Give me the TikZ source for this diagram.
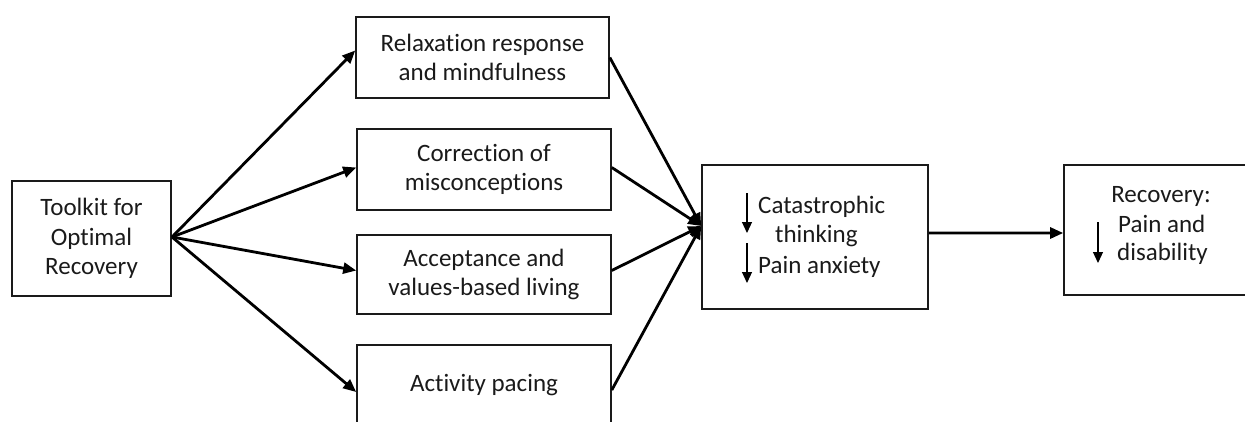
\documentclass[tikz,border=0pt]{standalone}
\usepackage{fontspec}
\setmainfont[Ligatures=NoCommon]{Carlito}
\usetikzlibrary{arrows.meta}
\definecolor{ink}{HTML}{1A1A1A}
\begin{document}
\begin{tikzpicture}[x=1bp,y=-1bp,
  box/.style={draw=ink,line width=1.6bp,align=center,inner sep=0pt,font=\fontsize{25bp}{29.5bp}\selectfont,text=ink},
  txt/.style={inner sep=0pt,font=\fontsize{25bp}{29.5bp}\selectfont,text=ink},
  conn/.style={line width=2.8bp,draw=black,-{Triangle[length=13bp,width=11bp]}},
  dn/.style={line width=1.2bp,draw=black,-{Triangle[length=11bp,width=10bp]}}]
\useasboundingbox (0,0) rectangle (1245,421);
\node[box,minimum width=159bp,minimum height=115bp] (tk) at (91.5,238.5) {Toolkit for\\Optimal\\Recovery};
\node[box,minimum width=253bp,minimum height=81bp] (relax) at (482.5,57.5) {Relaxation response\\and mindfulness};
\node[box,minimum width=254bp,minimum height=81bp] (corr) at (484,169.5) {Correction of\\misconceptions};
\node[box,minimum width=254bp,minimum height=79bp] (acc) at (484,274.5) {Acceptance and\\values-based living};
\node[box,minimum width=254bp,minimum height=80bp] (act) at (484,385) {Activity pacing};
\node[box,minimum width=226bp,minimum height=144bp] (cat) at (815,237) {};
\node[box,minimum width=188bp,minimum height=130bp] (rec) at (1158,230) {};
% texts inside catastrophic box
\node[txt,anchor=base west] (t1) at (758,213) {Catastrophic};
\node[txt,anchor=base west] (t2) at (775,242) {thinking};
\node[txt,anchor=base west] (t3) at (758,273) {Pain anxiety};
\coordinate (a1s) at (747,193); \coordinate (a1e) at (747,233);
\coordinate (a2s) at (747,243); \coordinate (a2e) at (747,283);
\draw[dn] (a1s) -- (a1e);
\draw[dn] (a2s) -- (a2e);
% texts inside recovery box
\node[txt,anchor=base] (r1) at (1161,202) {Recovery:};
\node[txt,anchor=base west] (r2) at (1118,232) {Pain and};
\node[txt,anchor=base west] (r3) at (1117,260) {disability};
\coordinate (b1s) at (1098,222); \coordinate (b1e) at (1098,263);
\draw[dn] (b1s) -- (b1e);
% connectors
\coordinate (src) at (172,237);
\coordinate (conv) at ([yshift=11bp]cat.west);
\draw[conn] (src) -- ([yshift=7bp]relax.west);
\draw[conn] (src) -- ([yshift=2bp]corr.west);
\draw[conn] (src) -- ([yshift=4bp]acc.west);
\draw[conn] (src) -- ([yshift=-7bp]act.west);
\draw[conn] (relax.east) -- (conv);
\draw[conn] ([yshift=2bp]corr.east) -- (conv);
\draw[conn] ([yshift=4bp]acc.east) -- (conv);
\draw[conn] ([yshift=-5bp]act.east) -- (conv);
\draw[conn] ([yshift=4bp]cat.east) -- ([yshift=-3bp]rec.west);
\end{tikzpicture}
\end{document}
